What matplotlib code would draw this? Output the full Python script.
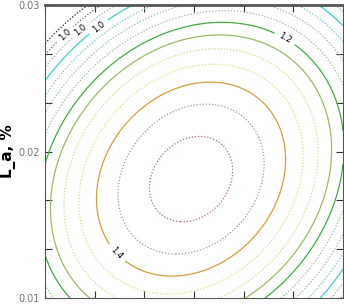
import numpy as np
import matplotlib.pyplot as plt

# surface: peak value, peak position and curvature
peak = 1.524
x0, y0 = 2.94, 0.01812
kxx, kxy, kyy = 1.284, -0.50, 1.182

x_range = (0, 6)
y_range = (0.01, 0.03)

levels = [0.85, 0.90, 0.95, 1.00, 1.05, 1.10, 1.15, 1.20, 1.25, 1.30, 1.35, 1.40, 1.45, 1.50]
line_colors = ['#222222', '#666666', '#8fb0b0', '#3fd0d0', '#70c8c8', '#a0b0b0', '#99bb99',
               '#44aa44', '#99bb66', '#d8d890', '#dede80', '#d0a040', '#9a9a9a', '#b07080']
solid = [1.00, 1.20, 1.25, 1.40]

# contour labels: level -> (text, position)
labels = {
    0.90: ('1.0', (0.544, 0.02747)),
    0.95: ('1.0', (0.785, 0.02802)),
    1.00: ('1.0', (1.047, 0.02863)),
    1.20: ('1.2', (4.79, 0.02747)),
    1.40: ('1.4', (1.33, 0.01273)),
}

x = np.linspace(x_range[0], x_range[1], 300)
y = np.linspace(y_range[0], y_range[1], 300)
X, Y = np.meshgrid(x, y)
u = (X - x0) / (x_range[1] - x_range[0])
v = (Y - y0) / (y_range[1] - y_range[0])
Z = peak - (kxx * u**2 + kxy * u * v + kyy * v**2)

fig = plt.figure(figsize=(3.44, 3.08), dpi=100)
ax = fig.add_axes([0.131, 0.032, 0.866, 0.952])

for lev, col in zip(levels, line_colors):
    ls = '-' if lev in solid else (0, (1, 1.5))
    cs = ax.contour(X, Y, Z, levels=[lev], colors=[col], linewidths=0.9, linestyles=[ls])
    if lev in labels:
        txt, pos = labels[lev]
        ax.clabel(cs, manual=[pos], fmt={lev: txt}, fontsize=6, colors='black', inline=True)

ax.set_xlim(*x_range)
ax.set_ylim(*y_range)
ax.set_xticks(np.arange(0, 7, 1))
ax.set_xticklabels([])
yt = np.linspace(0.01, 0.03, 7)
ax.set_yticks(yt)
ax.set_yticklabels(['0.01', '', '', '0.02', '', '', '0.03'])
ax.tick_params(direction='in', length=5, width=0.8, top=True, right=True, labelsize=7,
               labelcolor='#777777', color='#333333', pad=4)
for s in ax.spines.values():
    s.set_color('#555555')
    s.set_linewidth(0.8)
ax.spines['top'].set_linewidth(2)

ax.set_ylabel('L_a, %', fontsize=11, fontweight='bold')
ax.yaxis.set_label_coords(-0.097, 0.5)

fig.savefig('out.png', dpi=100)
